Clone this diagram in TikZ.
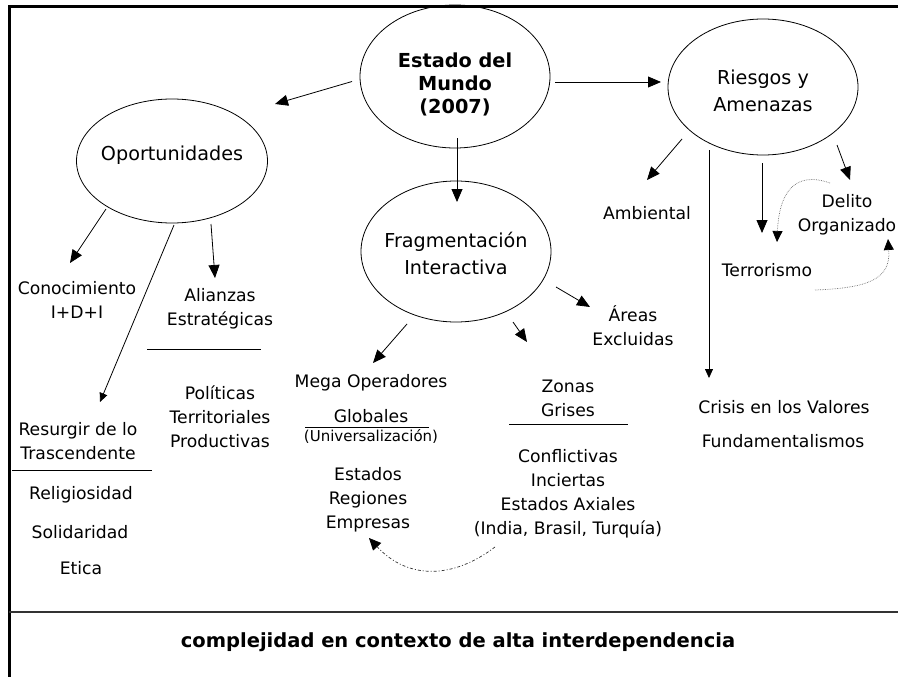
\documentclass[tikz,border=0pt]{standalone}
\usepackage{fontspec}
\setmainfont{DejaVu Sans}
\usetikzlibrary{shapes.geometric,arrows.meta,calc}
\begin{document}
\begin{tikzpicture}[x=1pt,y=-1pt,
 ell/.style={draw, ellipse, inner sep=0pt, line width=0.8pt},
 lbl/.style={align=center, inner sep=0pt, font=\fontsize{17.2}{24}\selectfont},
 big/.style={align=center, inner sep=0pt, font=\fontsize{19.2}{27}\selectfont},
 arr/.style={-{Triangle[length=13pt,width=11pt]}, line width=0.8pt},
 sarr/.style={-{Triangle[length=9pt,width=8pt]}, line width=0.8pt},
 dotarr/.style={-{Triangle[length=11pt,width=10pt,color=black]}, line width=0.7pt, densely dotted, draw=black!55},
 dasharr/.style={-{Triangle[length=12pt,width=11pt,color=black]}, line width=0.7pt, dash pattern=on 3pt off 2pt on 1pt off 2pt, draw=black!80},
 sepline/.style={line width=0.8pt}
]
\useasboundingbox (0,0) rectangle (898,677);
% frame
\draw[line width=3pt] (9,677) -- (9,7) -- (898,7);
\draw[line width=1.5pt, draw=black!80] (9,612) -- (898,612);

% ellipses
\node[ell, minimum width=190pt, minimum height=143pt] (estado) at (455,76.5) {};
\node[ell, minimum width=190pt, minimum height=136pt] (riesgos) at (763,87) {};
\node[ell, minimum width=191pt, minimum height=124pt] (oport) at (172,161) {};
\node[ell, minimum width=190pt, minimum height=141pt] (frag) at (456,251.5) {};

% ellipse texts
\node[big, font=\fontsize{19.3}{23}\selectfont\bfseries] (estadoT) at (455,84) {Estado del\\Mundo\\(2007)};
\node[big] (riesgosT) at (763,91) {Riesgos y\\Amenazas};
\node[big] (oportT) at (172,155) {Oportunidades};
\node[big] (fragT) at (456,253) {Fragmentación\\Interactiva};

% labels
\node[lbl] (amb) at (647,213) {Ambiental};
\node[lbl] (delito) at (847,215) {Delito\\Organizado};
\node[lbl] (terror) at (767,270) {Terrorismo};
\node[lbl] (crisis) at (784,407) {Crisis en los Valores};
\node[lbl] (fund) at (783,441) {Fundamentalismos};
\node[lbl] (areas) at (633,326) {Áreas\\Excluidas};
\node[lbl] (zonas) at (568,398) {Zonas\\Grises};
\node[lbl] (conflict) at (568,494) {Conflictivas\\Inciertas\\Estados Axiales\\(India, Brasil, Turquía)};
\node[lbl] (mega) at (371,383) {Mega Operadores};
\node[lbl] (glob) at (371,416) {Globales};
\node[lbl, font=\fontsize{15}{18}\selectfont] (univ) at (371,436) {(Universalización)};
\node[lbl] (estados) at (368,500) {Estados\\Regiones\\Empresas};
\node[lbl] (alianzas) at (220,309) {Alianzas\\Estratégicas};
\node[lbl] (politicas) at (220,417) {Políticas\\Territoriales\\Productivas};
\node[lbl] (conoc) at (77,300) {Conocimiento\\I+D+I};
\node[lbl] (resurgir) at (78,441) {Resurgir de lo\\Trascendente};
\node[lbl] (relig) at (81,495) {Religiosidad};
\node[lbl] (solid) at (80,532) {Solidaridad};
\node[lbl] (etica) at (81,568) {Etica};
\node[lbl, font=\fontsize{19.5}{24}\selectfont\bfseries] (bottom) at (458,642) {complejidad en contexto de alta interdependencia};

% separator lines
\draw[sepline] (147,349) -- (261,349);
\draw[sepline] (12,470) -- (152,470);
\draw[sepline] (305,427) -- (429,427);
\draw[sepline] (509,424) -- (628,424);

% arrows
\draw[arr] ($(estado)+(-103,5)$) -- ($(oport)+(103,-57)$);
\draw[arr] ($(estado)+(100,5.5)$) -- ($(riesgos)+(-102,-5)$);
\draw[arr] ($(estado)+(2,61.5)$) -- ($(frag)+(1,-49.5)$);
\draw[arr] ($(riesgos)+(-81,52)$) -- ($(amb)+(0,-33)$);
\draw[sarr] ($(riesgos)+(-54,63)$) -- ($(crisis)+(-75,-29)$);
\draw[arr] ($(riesgos)+(-1,76)$) -- ($(terror)+(-5,-37)$);
\draw[arr] ($(riesgos)+(74,58)$) -- ($(delito)+(3,-35)$);
\draw[dotarr] ($(delito)+(-17,-32)$) .. controls ($(delito)+(-54,-45)$) and ($(terror)+(12,-75)$) .. ($(terror)+(10,-28)$);
\draw[dotarr] ($(terror)+(48,20)$) .. controls ($(terror)+(100,18)$) and ($(delito)+(44,65)$) .. ($(delito)+(41,24)$);
\draw[arr] ($(frag)+(100,35.5)$) -- ($(areas)+(-43,-19)$);
\draw[arr] ($(frag)+(57,70.5)$) -- ($(zonas)+(-41,-56)$);
\draw[arr] ($(frag)+(-49,72.5)$) -- ($(mega)+(2,-20)$);
\draw[dasharr] ($(conflict)+(-73,53)$) .. controls ($(conflict)+(-115,85)$) and ($(estados)+(40,80)$) .. ($(estados)+(1,38)$);
\draw[arr] ($(oport)+(-66,48)$) -- ($(conoc)+(-7,-37)$);
\draw[arr] ($(oport)+(39,63)$) -- ($(alianzas)+(-5,-31)$);
\draw[sarr] ($(oport)+(2,64)$) -- ($(resurgir)+(22,-39)$);
\end{tikzpicture}
\end{document}
